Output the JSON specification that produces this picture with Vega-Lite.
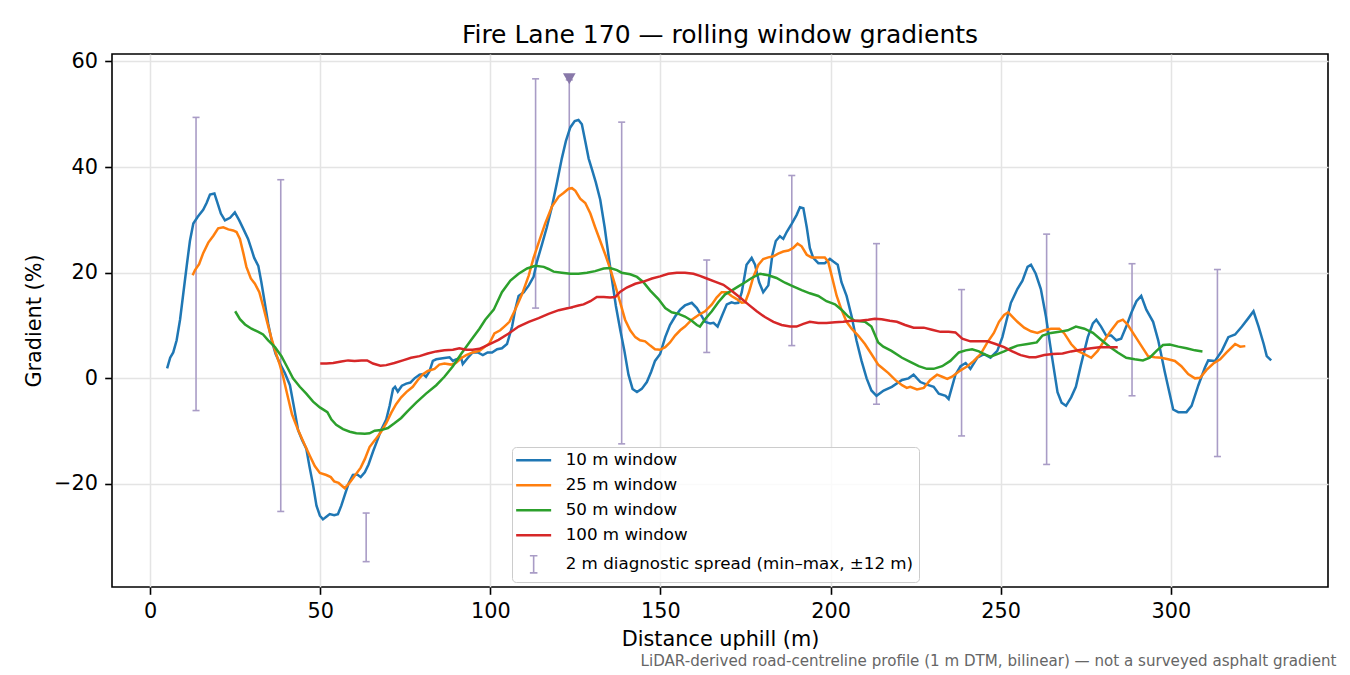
{
  "$schema": "https://vega.github.io/schema/vega-lite/v6.json",
  "width": 1216,
  "height": 533,
  "autosize": "none",
  "padding": {"left": 112, "top": 54, "right": 22, "bottom": 88},
  "background": "white",
  "title": {
    "text": "Fire Lane 170 — rolling window gradients",
    "font": "DejaVu Sans",
    "fontSize": 25,
    "fontWeight": "normal",
    "color": "#000000",
    "anchor": "middle",
    "baseline": "alphabetic",
    "offset": 12.5,
    "dy": 30
  },
  "datasets": {
    "profile": [
      {"window":"10 m window","distance":5.0,"gradient":1.9},{"window":"10 m window","distance":5.9,"gradient":3.9},{"window":"10 m window","distance":6.8,"gradient":4.9},{"window":"10 m window","distance":7.8,"gradient":7.2},{"window":"10 m window","distance":8.8,"gradient":11.1},{"window":"10 m window","distance":9.8,"gradient":16.3},{"window":"10 m window","distance":10.8,"gradient":21.5},{"window":"10 m window","distance":11.7,"gradient":26.0},{"window":"10 m window","distance":12.7,"gradient":29.3},{"window":"10 m window","distance":14.0,"gradient":30.6},{"window":"10 m window","distance":15.6,"gradient":31.9},{"window":"10 m window","distance":16.6,"gradient":33.2},{"window":"10 m window","distance":17.6,"gradient":34.8},{"window":"10 m window","distance":18.9,"gradient":35.0},{"window":"10 m window","distance":19.8,"gradient":33.2},{"window":"10 m window","distance":20.8,"gradient":31.2},{"window":"10 m window","distance":22.0,"gradient":29.9},{"window":"10 m window","distance":23.5,"gradient":30.4},{"window":"10 m window","distance":24.9,"gradient":31.4},{"window":"10 m window","distance":26.2,"gradient":29.9},{"window":"10 m window","distance":27.4,"gradient":28.3},{"window":"10 m window","distance":28.8,"gradient":26.4},{"window":"10 m window","distance":29.8,"gradient":24.4},{"window":"10 m window","distance":30.6,"gradient":22.8},{"window":"10 m window","distance":31.8,"gradient":21.3},{"window":"10 m window","distance":32.7,"gradient":18.2},{"window":"10 m window","distance":33.7,"gradient":14.3},{"window":"10 m window","distance":34.7,"gradient":10.4},{"window":"10 m window","distance":35.7,"gradient":7.2},{"window":"10 m window","distance":36.9,"gradient":4.6},{"window":"10 m window","distance":38.1,"gradient":2.9},{"window":"10 m window","distance":39.6,"gradient":1.0},{"window":"10 m window","distance":41.1,"gradient":-1.3},{"window":"10 m window","distance":42.3,"gradient":-5.5},{"window":"10 m window","distance":43.5,"gradient":-9.8},{"window":"10 m window","distance":44.7,"gradient":-11.7},{"window":"10 m window","distance":45.9,"gradient":-13.3},{"window":"10 m window","distance":46.9,"gradient":-16.9},{"window":"10 m window","distance":47.9,"gradient":-20.2},{"window":"10 m window","distance":48.9,"gradient":-24.1},{"window":"10 m window","distance":49.9,"gradient":-26.0},{"window":"10 m window","distance":50.8,"gradient":-26.7},{"window":"10 m window","distance":51.8,"gradient":-26.2},{"window":"10 m window","distance":52.8,"gradient":-25.7},{"window":"10 m window","distance":54.1,"gradient":-25.9},{"window":"10 m window","distance":55.2,"gradient":-25.7},{"window":"10 m window","distance":56.2,"gradient":-24.1},{"window":"10 m window","distance":57.2,"gradient":-22.1},{"window":"10 m window","distance":58.4,"gradient":-19.8},{"window":"10 m window","distance":59.6,"gradient":-18.3},{"window":"10 m window","distance":60.9,"gradient":-18.2},{"window":"10 m window","distance":61.9,"gradient":-18.7},{"window":"10 m window","distance":63.1,"gradient":-17.8},{"window":"10 m window","distance":64.2,"gradient":-16.3},{"window":"10 m window","distance":65.5,"gradient":-13.9},{"window":"10 m window","distance":66.8,"gradient":-11.7},{"window":"10 m window","distance":67.9,"gradient":-9.8},{"window":"10 m window","distance":69.4,"gradient":-7.8},{"window":"10 m window","distance":70.4,"gradient":-5.2},{"window":"10 m window","distance":71.4,"gradient":-2.0},{"window":"10 m window","distance":72.0,"gradient":-1.6},{"window":"10 m window","distance":72.8,"gradient":-2.5},{"window":"10 m window","distance":74.0,"gradient":-1.4},{"window":"10 m window","distance":75.3,"gradient":-1.0},{"window":"10 m window","distance":76.5,"gradient":-0.8},{"window":"10 m window","distance":77.7,"gradient":0},{"window":"10 m window","distance":79.2,"gradient":0.7},{"window":"10 m window","distance":80.2,"gradient":0.8},{"window":"10 m window","distance":81.1,"gradient":0.3},{"window":"10 m window","distance":82.1,"gradient":1.3},{"window":"10 m window","distance":83.1,"gradient":3.3},{"window":"10 m window","distance":84.1,"gradient":3.6},{"window":"10 m window","distance":86.0,"gradient":3.8},{"window":"10 m window","distance":88.0,"gradient":4.0},{"window":"10 m window","distance":89.0,"gradient":3.3},{"window":"10 m window","distance":89.9,"gradient":3.6},{"window":"10 m window","distance":91.4,"gradient":3.9},{"window":"10 m window","distance":91.9,"gradient":2.7},{"window":"10 m window","distance":93.4,"gradient":3.9},{"window":"10 m window","distance":94.8,"gradient":4.9},{"window":"10 m window","distance":96.3,"gradient":4.9},{"window":"10 m window","distance":97.8,"gradient":4.4},{"window":"10 m window","distance":99.2,"gradient":4.9},{"window":"10 m window","distance":100.5,"gradient":4.9},{"window":"10 m window","distance":102.0,"gradient":5.5},{"window":"10 m window","distance":103.4,"gradient":5.7},{"window":"10 m window","distance":104.9,"gradient":6.5},{"window":"10 m window","distance":106.4,"gradient":9.8},{"window":"10 m window","distance":107.3,"gradient":13.0},{"window":"10 m window","distance":108.3,"gradient":15.6},{"window":"10 m window","distance":109.8,"gradient":16.3},{"window":"10 m window","distance":111.3,"gradient":17.6},{"window":"10 m window","distance":112.7,"gradient":19.2},{"window":"10 m window","distance":113.7,"gradient":22.1},{"window":"10 m window","distance":115.2,"gradient":25.4},{"window":"10 m window","distance":116.6,"gradient":28.6},{"window":"10 m window","distance":118.1,"gradient":32.5},{"window":"10 m window","distance":119.6,"gradient":37.1},{"window":"10 m window","distance":121.0,"gradient":41.6},{"window":"10 m window","distance":122.2,"gradient":44.9},{"window":"10 m window","distance":123.5,"gradient":47.5},{"window":"10 m window","distance":124.8,"gradient":48.7},{"window":"10 m window","distance":125.9,"gradient":48.9},{"window":"10 m window","distance":126.9,"gradient":48.1},{"window":"10 m window","distance":127.9,"gradient":44.9},{"window":"10 m window","distance":128.9,"gradient":41.6},{"window":"10 m window","distance":129.8,"gradient":39.7},{"window":"10 m window","distance":131.0,"gradient":37.1},{"window":"10 m window","distance":132.3,"gradient":33.8},{"window":"10 m window","distance":133.6,"gradient":28.6},{"window":"10 m window","distance":134.7,"gradient":23.4},{"window":"10 m window","distance":135.7,"gradient":18.9},{"window":"10 m window","distance":136.9,"gradient":13.7},{"window":"10 m window","distance":138.2,"gradient":9.1},{"window":"10 m window","distance":139.4,"gradient":5.2},{"window":"10 m window","distance":140.6,"gradient":0.7},{"window":"10 m window","distance":141.8,"gradient":-2.0},{"window":"10 m window","distance":143.1,"gradient":-2.6},{"window":"10 m window","distance":144.5,"gradient":-2.0},{"window":"10 m window","distance":146.0,"gradient":-0.7},{"window":"10 m window","distance":147.3,"gradient":1.3},{"window":"10 m window","distance":148.4,"gradient":3.3},{"window":"10 m window","distance":149.9,"gradient":4.6},{"window":"10 m window","distance":151.4,"gradient":7.8},{"window":"10 m window","distance":152.8,"gradient":10.1},{"window":"10 m window","distance":154.3,"gradient":11.7},{"window":"10 m window","distance":155.8,"gradient":13.0},{"window":"10 m window","distance":157.2,"gradient":13.8},{"window":"10 m window","distance":159.2,"gradient":14.3},{"window":"10 m window","distance":160.7,"gradient":13.3},{"window":"10 m window","distance":161.9,"gradient":12.0},{"window":"10 m window","distance":163.1,"gradient":10.7},{"window":"10 m window","distance":164.6,"gradient":10.4},{"window":"10 m window","distance":165.6,"gradient":10.5},{"window":"10 m window","distance":166.8,"gradient":9.8},{"window":"10 m window","distance":168.0,"gradient":11.7},{"window":"10 m window","distance":169.5,"gradient":14.0},{"window":"10 m window","distance":170.9,"gradient":14.4},{"window":"10 m window","distance":171.9,"gradient":14.2},{"window":"10 m window","distance":172.9,"gradient":14.3},{"window":"10 m window","distance":173.9,"gradient":16.3},{"window":"10 m window","distance":175.3,"gradient":21.5},{"window":"10 m window","distance":176.8,"gradient":22.8},{"window":"10 m window","distance":177.8,"gradient":21.5},{"window":"10 m window","distance":179.0,"gradient":18.2},{"window":"10 m window","distance":180.2,"gradient":16.3},{"window":"10 m window","distance":181.7,"gradient":17.6},{"window":"10 m window","distance":182.9,"gradient":23.4},{"window":"10 m window","distance":183.9,"gradient":26.0},{"window":"10 m window","distance":185.1,"gradient":26.9},{"window":"10 m window","distance":186.1,"gradient":26.4},{"window":"10 m window","distance":187.1,"gradient":27.7},{"window":"10 m window","distance":188.6,"gradient":29.3},{"window":"10 m window","distance":190.0,"gradient":30.9},{"window":"10 m window","distance":191.0,"gradient":32.4},{"window":"10 m window","distance":192.0,"gradient":32.2},{"window":"10 m window","distance":193.0,"gradient":28.6},{"window":"10 m window","distance":193.9,"gradient":24.7},{"window":"10 m window","distance":194.9,"gradient":22.8},{"window":"10 m window","distance":196.4,"gradient":21.8},{"window":"10 m window","distance":198.3,"gradient":21.8},{"window":"10 m window","distance":199.8,"gradient":22.6},{"window":"10 m window","distance":200.8,"gradient":22.1},{"window":"10 m window","distance":202.1,"gradient":21.5},{"window":"10 m window","distance":203.2,"gradient":18.2},{"window":"10 m window","distance":204.7,"gradient":15.6},{"window":"10 m window","distance":206.2,"gradient":11.7},{"window":"10 m window","distance":207.6,"gradient":7.2},{"window":"10 m window","distance":209.1,"gradient":3.3},{"window":"10 m window","distance":210.6,"gradient":0},{"window":"10 m window","distance":212.0,"gradient":-2.3},{"window":"10 m window","distance":213.5,"gradient":-3.3},{"window":"10 m window","distance":215.6,"gradient":-2.3},{"window":"10 m window","distance":218.0,"gradient":-1.6},{"window":"10 m window","distance":221.0,"gradient":-0.3},{"window":"10 m window","distance":222.9,"gradient":0},{"window":"10 m window","distance":224.4,"gradient":0.7},{"window":"10 m window","distance":226.4,"gradient":-0.7},{"window":"10 m window","distance":228.3,"gradient":-1.2},{"window":"10 m window","distance":230.3,"gradient":-1.6},{"window":"10 m window","distance":231.8,"gradient":-2.9},{"window":"10 m window","distance":233.8,"gradient":-3.3},{"window":"10 m window","distance":234.7,"gradient":-3.9},{"window":"10 m window","distance":236.7,"gradient":0.7},{"window":"10 m window","distance":238.2,"gradient":2.3},{"window":"10 m window","distance":239.7,"gradient":2.9},{"window":"10 m window","distance":241.1,"gradient":1.8},{"window":"10 m window","distance":243.1,"gradient":3.9},{"window":"10 m window","distance":245.1,"gradient":4.6},{"window":"10 m window","distance":247.0,"gradient":3.9},{"window":"10 m window","distance":249.0,"gradient":5.2},{"window":"10 m window","distance":250.5,"gradient":7.8},{"window":"10 m window","distance":253.0,"gradient":14.3},{"window":"10 m window","distance":254.9,"gradient":16.9},{"window":"10 m window","distance":256.4,"gradient":18.5},{"window":"10 m window","distance":257.9,"gradient":21.1},{"window":"10 m window","distance":258.9,"gradient":21.5},{"window":"10 m window","distance":260.3,"gradient":19.8},{"window":"10 m window","distance":261.8,"gradient":16.9},{"window":"10 m window","distance":263.3,"gradient":11.7},{"window":"10 m window","distance":264.8,"gradient":5.2},{"window":"10 m window","distance":266.7,"gradient":-2.6},{"window":"10 m window","distance":267.9,"gradient":-4.6},{"window":"10 m window","distance":269.2,"gradient":-5.2},{"window":"10 m window","distance":270.7,"gradient":-3.6},{"window":"10 m window","distance":272.1,"gradient":-1.6},{"window":"10 m window","distance":273.6,"gradient":2.6},{"window":"10 m window","distance":275.6,"gradient":7.8},{"window":"10 m window","distance":277.1,"gradient":10.4},{"window":"10 m window","distance":278.1,"gradient":11.1},{"window":"10 m window","distance":279.5,"gradient":9.8},{"window":"10 m window","distance":281.0,"gradient":8.1},{"window":"10 m window","distance":282.5,"gradient":8.1},{"window":"10 m window","distance":284.0,"gradient":7.2},{"window":"10 m window","distance":285.4,"gradient":7.5},{"window":"10 m window","distance":286.9,"gradient":9.8},{"window":"10 m window","distance":288.4,"gradient":12.4},{"window":"10 m window","distance":289.9,"gradient":14.6},{"window":"10 m window","distance":291.3,"gradient":15.6},{"window":"10 m window","distance":292.8,"gradient":13.0},{"window":"10 m window","distance":294.8,"gradient":10.7},{"window":"10 m window","distance":296.3,"gradient":7.2},{"window":"10 m window","distance":298.2,"gradient":1.3},{"window":"10 m window","distance":300.7,"gradient":-5.9},{"window":"10 m window","distance":302.2,"gradient":-6.4},{"window":"10 m window","distance":304.6,"gradient":-6.4},{"window":"10 m window","distance":306.1,"gradient":-5.2},{"window":"10 m window","distance":308.1,"gradient":-1.3},{"window":"10 m window","distance":310.0,"gradient":2.0},{"window":"10 m window","distance":311.0,"gradient":3.4},{"window":"10 m window","distance":313.0,"gradient":3.3},{"window":"10 m window","distance":315.0,"gradient":5.2},{"window":"10 m window","distance":316.9,"gradient":7.8},{"window":"10 m window","distance":318.9,"gradient":8.3},{"window":"10 m window","distance":320.9,"gradient":9.8},{"window":"10 m window","distance":322.8,"gradient":11.4},{"window":"10 m window","distance":324.3,"gradient":12.7},{"window":"10 m window","distance":325.8,"gradient":9.8},{"window":"10 m window","distance":327.3,"gradient":6.5},{"window":"10 m window","distance":328.2,"gradient":4.2},{"window":"10 m window","distance":329.5,"gradient":3.4},
      {"window":"25 m window","distance":12.5,"gradient":19.5},{"window":"25 m window","distance":13.2,"gradient":20.5},{"window":"25 m window","distance":14.4,"gradient":21.6},{"window":"25 m window","distance":15.6,"gradient":23.7},{"window":"25 m window","distance":17.1,"gradient":25.7},{"window":"25 m window","distance":18.6,"gradient":27.0},{"window":"25 m window","distance":20.0,"gradient":28.4},{"window":"25 m window","distance":21.5,"gradient":28.6},{"window":"25 m window","distance":23.0,"gradient":28.2},{"window":"25 m window","distance":24.4,"gradient":28.0},{"window":"25 m window","distance":25.4,"gradient":27.7},{"window":"25 m window","distance":26.4,"gradient":26.4},{"window":"25 m window","distance":27.4,"gradient":23.7},{"window":"25 m window","distance":28.3,"gradient":21.1},{"window":"25 m window","distance":29.6,"gradient":18.9},{"window":"25 m window","distance":30.8,"gradient":17.9},{"window":"25 m window","distance":32.1,"gradient":16.3},{"window":"25 m window","distance":33.2,"gradient":13.7},{"window":"25 m window","distance":34.5,"gradient":10.4},{"window":"25 m window","distance":35.7,"gradient":7.5},{"window":"25 m window","distance":36.9,"gradient":4.9},{"window":"25 m window","distance":38.1,"gradient":2.6},{"window":"25 m window","distance":39.1,"gradient":0.3},{"window":"25 m window","distance":40.4,"gradient":-3.3},{"window":"25 m window","distance":41.7,"gradient":-6.8},{"window":"25 m window","distance":43.5,"gradient":-9.8},{"window":"25 m window","distance":45.3,"gradient":-12.4},{"window":"25 m window","distance":46.9,"gradient":-14.6},{"window":"25 m window","distance":48.4,"gradient":-16.6},{"window":"25 m window","distance":49.9,"gradient":-17.9},{"window":"25 m window","distance":51.8,"gradient":-18.3},{"window":"25 m window","distance":53.1,"gradient":-18.7},{"window":"25 m window","distance":54.1,"gradient":-19.5},{"window":"25 m window","distance":55.4,"gradient":-19.8},{"window":"25 m window","distance":57.2,"gradient":-20.8},{"window":"25 m window","distance":58.7,"gradient":-19.7},{"window":"25 m window","distance":60.1,"gradient":-18.5},{"window":"25 m window","distance":61.9,"gradient":-16.9},{"window":"25 m window","distance":63.1,"gradient":-15.3},{"window":"25 m window","distance":64.5,"gradient":-13.0},{"window":"25 m window","distance":66.2,"gradient":-11.6},{"window":"25 m window","distance":67.9,"gradient":-10.1},{"window":"25 m window","distance":69.4,"gradient":-8.5},{"window":"25 m window","distance":70.9,"gradient":-6.5},{"window":"25 m window","distance":72.3,"gradient":-4.9},{"window":"25 m window","distance":73.8,"gradient":-3.6},{"window":"25 m window","distance":75.3,"gradient":-2.6},{"window":"25 m window","distance":77.2,"gradient":-1.6},{"window":"25 m window","distance":78.7,"gradient":-0.3},{"window":"25 m window","distance":80.2,"gradient":0.8},{"window":"25 m window","distance":81.6,"gradient":1.4},{"window":"25 m window","distance":83.6,"gradient":1.8},{"window":"25 m window","distance":85.0,"gradient":2.6},{"window":"25 m window","distance":86.5,"gradient":2.8},{"window":"25 m window","distance":88.5,"gradient":2.6},{"window":"25 m window","distance":89.9,"gradient":2.9},{"window":"25 m window","distance":91.4,"gradient":3.8},{"window":"25 m window","distance":92.9,"gradient":4.4},{"window":"25 m window","distance":94.8,"gradient":4.9},{"window":"25 m window","distance":96.8,"gradient":5.2},{"window":"25 m window","distance":98.2,"gradient":5.9},{"window":"25 m window","distance":99.7,"gradient":6.6},{"window":"25 m window","distance":101.2,"gradient":8.5},{"window":"25 m window","distance":102.9,"gradient":9.1},{"window":"25 m window","distance":104.1,"gradient":9.8},{"window":"25 m window","distance":105.6,"gradient":10.7},{"window":"25 m window","distance":107.3,"gradient":13.0},{"window":"25 m window","distance":109.3,"gradient":15.9},{"window":"25 m window","distance":111.3,"gradient":19.5},{"window":"25 m window","distance":112.7,"gradient":22.8},{"window":"25 m window","distance":114.2,"gradient":25.7},{"window":"25 m window","distance":116.1,"gradient":29.3},{"window":"25 m window","distance":118.1,"gradient":32.5},{"window":"25 m window","distance":120.1,"gradient":34.4},{"window":"25 m window","distance":121.5,"gradient":35.1},{"window":"25 m window","distance":123.0,"gradient":35.9},{"window":"25 m window","distance":124.0,"gradient":36.0},{"window":"25 m window","distance":125.0,"gradient":35.5},{"window":"25 m window","distance":126.4,"gradient":34.0},{"window":"25 m window","distance":127.9,"gradient":33.2},{"window":"25 m window","distance":129.4,"gradient":31.2},{"window":"25 m window","distance":130.8,"gradient":28.6},{"window":"25 m window","distance":132.3,"gradient":26.0},{"window":"25 m window","distance":133.8,"gradient":23.4},{"window":"25 m window","distance":135.2,"gradient":20.8},{"window":"25 m window","distance":136.7,"gradient":17.6},{"window":"25 m window","distance":138.2,"gradient":14.3},{"window":"25 m window","distance":139.6,"gradient":11.1},{"window":"25 m window","distance":141.1,"gradient":9.1},{"window":"25 m window","distance":142.6,"gradient":7.8},{"window":"25 m window","distance":144.0,"gradient":7.2},{"window":"25 m window","distance":145.5,"gradient":7.0},{"window":"25 m window","distance":147.0,"gradient":6.2},{"window":"25 m window","distance":148.4,"gradient":5.5},{"window":"25 m window","distance":149.9,"gradient":5.4},{"window":"25 m window","distance":151.4,"gradient":5.9},{"window":"25 m window","distance":152.8,"gradient":6.8},{"window":"25 m window","distance":154.3,"gradient":8.1},{"window":"25 m window","distance":155.8,"gradient":9.1},{"window":"25 m window","distance":157.2,"gradient":9.8},{"window":"25 m window","distance":159.2,"gradient":11.1},{"window":"25 m window","distance":161.2,"gradient":12.0},{"window":"25 m window","distance":163.1,"gradient":12.7},{"window":"25 m window","distance":165.1,"gradient":14.0},{"window":"25 m window","distance":166.5,"gradient":15.3},{"window":"25 m window","distance":168.0,"gradient":16.3},{"window":"25 m window","distance":169.5,"gradient":16.3},{"window":"25 m window","distance":170.9,"gradient":15.6},{"window":"25 m window","distance":172.4,"gradient":15.0},{"window":"25 m window","distance":173.9,"gradient":14.3},{"window":"25 m window","distance":174.9,"gradient":14.4},{"window":"25 m window","distance":176.0,"gradient":16.3},{"window":"25 m window","distance":177.3,"gradient":19.2},{"window":"25 m window","distance":178.8,"gradient":21.5},{"window":"25 m window","distance":180.2,"gradient":22.6},{"window":"25 m window","distance":181.7,"gradient":22.9},{"window":"25 m window","distance":183.2,"gradient":23.1},{"window":"25 m window","distance":184.6,"gradient":23.6},{"window":"25 m window","distance":186.1,"gradient":24.0},{"window":"25 m window","distance":187.6,"gradient":24.2},{"window":"25 m window","distance":189.0,"gradient":24.7},{"window":"25 m window","distance":190.3,"gradient":25.5},{"window":"25 m window","distance":191.5,"gradient":25.0},{"window":"25 m window","distance":193.0,"gradient":23.4},{"window":"25 m window","distance":194.4,"gradient":22.9},{"window":"25 m window","distance":196.4,"gradient":22.9},{"window":"25 m window","distance":198.3,"gradient":22.9},{"window":"25 m window","distance":199.3,"gradient":22.1},{"window":"25 m window","distance":200.3,"gradient":19.5},{"window":"25 m window","distance":201.8,"gradient":15.6},{"window":"25 m window","distance":203.2,"gradient":13.0},{"window":"25 m window","distance":204.7,"gradient":10.7},{"window":"25 m window","distance":206.2,"gradient":9.4},{"window":"25 m window","distance":208.1,"gradient":8.1},{"window":"25 m window","distance":210.1,"gradient":6.5},{"window":"25 m window","distance":212.0,"gradient":4.6},{"window":"25 m window","distance":214.0,"gradient":2.6},{"window":"25 m window","distance":215.1,"gradient":2.0},{"window":"25 m window","distance":217.0,"gradient":1.0},{"window":"25 m window","distance":219.0,"gradient":-0.3},{"window":"25 m window","distance":221.0,"gradient":-1.3},{"window":"25 m window","distance":222.4,"gradient":-1.8},{"window":"25 m window","distance":223.4,"gradient":-1.6},{"window":"25 m window","distance":225.4,"gradient":-2.1},{"window":"25 m window","distance":227.4,"gradient":-1.8},{"window":"25 m window","distance":229.3,"gradient":-0.3},{"window":"25 m window","distance":231.3,"gradient":0.7},{"window":"25 m window","distance":232.8,"gradient":0.3},{"window":"25 m window","distance":234.3,"gradient":-0.1},{"window":"25 m window","distance":235.7,"gradient":0.3},{"window":"25 m window","distance":237.7,"gradient":1.3},{"window":"25 m window","distance":240.2,"gradient":2.3},{"window":"25 m window","distance":242.1,"gradient":3.3},{"window":"25 m window","distance":244.1,"gradient":4.6},{"window":"25 m window","distance":246.1,"gradient":6.8},{"window":"25 m window","distance":248.0,"gradient":8.6},{"window":"25 m window","distance":249.5,"gradient":10.7},{"window":"25 m window","distance":251.0,"gradient":12.0},{"window":"25 m window","distance":252.2,"gradient":12.5},{"window":"25 m window","distance":253.4,"gradient":11.7},{"window":"25 m window","distance":254.9,"gradient":10.7},{"window":"25 m window","distance":256.9,"gradient":9.6},{"window":"25 m window","distance":258.9,"gradient":8.9},{"window":"25 m window","distance":260.8,"gradient":8.6},{"window":"25 m window","distance":262.8,"gradient":9.1},{"window":"25 m window","distance":264.8,"gradient":9.4},{"window":"25 m window","distance":267.2,"gradient":9.4},{"window":"25 m window","distance":268.7,"gradient":8.5},{"window":"25 m window","distance":270.7,"gradient":6.5},{"window":"25 m window","distance":272.6,"gradient":5.2},{"window":"25 m window","distance":274.6,"gradient":4.6},{"window":"25 m window","distance":276.6,"gradient":3.9},{"window":"25 m window","distance":278.5,"gradient":5.2},{"window":"25 m window","distance":280.5,"gradient":7.2},{"window":"25 m window","distance":282.5,"gradient":9.1},{"window":"25 m window","distance":284.4,"gradient":10.7},{"window":"25 m window","distance":285.9,"gradient":11.1},{"window":"25 m window","distance":287.4,"gradient":10.1},{"window":"25 m window","distance":289.4,"gradient":8.1},{"window":"25 m window","distance":291.3,"gradient":6.2},{"window":"25 m window","distance":293.3,"gradient":4.2},{"window":"25 m window","distance":295.3,"gradient":4.0},{"window":"25 m window","distance":297.2,"gradient":3.9},{"window":"25 m window","distance":299.2,"gradient":3.6},{"window":"25 m window","distance":301.2,"gradient":3.3},{"window":"25 m window","distance":303.1,"gradient":2.3},{"window":"25 m window","distance":305.1,"gradient":0.8},{"window":"25 m window","distance":307.1,"gradient":0},{"window":"25 m window","distance":308.6,"gradient":0.1},{"window":"25 m window","distance":310.5,"gradient":1.6},{"window":"25 m window","distance":312.5,"gradient":2.8},{"window":"25 m window","distance":314.5,"gradient":3.6},{"window":"25 m window","distance":316.4,"gradient":4.9},{"window":"25 m window","distance":318.9,"gradient":6.5},{"window":"25 m window","distance":320.4,"gradient":6.0},{"window":"25 m window","distance":321.9,"gradient":6.1},
      {"window":"50 m window","distance":25.0,"gradient":12.7},{"window":"50 m window","distance":26.4,"gradient":11.2},{"window":"50 m window","distance":27.9,"gradient":10.2},{"window":"50 m window","distance":29.8,"gradient":9.4},{"window":"50 m window","distance":31.8,"gradient":8.8},{"window":"50 m window","distance":33.2,"gradient":8.3},{"window":"50 m window","distance":34.7,"gradient":7.2},{"window":"50 m window","distance":36.7,"gradient":5.9},{"window":"50 m window","distance":38.6,"gradient":4.2},{"window":"50 m window","distance":40.4,"gradient":2.0},{"window":"50 m window","distance":42.0,"gradient":0},{"window":"50 m window","distance":44.0,"gradient":-1.6},{"window":"50 m window","distance":45.9,"gradient":-2.9},{"window":"50 m window","distance":47.9,"gradient":-4.4},{"window":"50 m window","distance":49.9,"gradient":-5.5},{"window":"50 m window","distance":52.1,"gradient":-6.4},{"window":"50 m window","distance":53.3,"gradient":-7.8},{"window":"50 m window","distance":54.7,"gradient":-8.8},{"window":"50 m window","distance":56.7,"gradient":-9.6},{"window":"50 m window","distance":58.7,"gradient":-10.1},{"window":"50 m window","distance":60.6,"gradient":-10.4},{"window":"50 m window","distance":63.1,"gradient":-10.5},{"window":"50 m window","distance":64.5,"gradient":-10.4},{"window":"50 m window","distance":66.0,"gradient":-9.9},{"window":"50 m window","distance":67.9,"gradient":-9.8},{"window":"50 m window","distance":69.9,"gradient":-9.4},{"window":"50 m window","distance":71.8,"gradient":-8.5},{"window":"50 m window","distance":73.8,"gradient":-7.5},{"window":"50 m window","distance":75.7,"gradient":-6.2},{"window":"50 m window","distance":78.2,"gradient":-4.6},{"window":"50 m window","distance":81.1,"gradient":-2.9},{"window":"50 m window","distance":84.1,"gradient":-1.3},{"window":"50 m window","distance":86.5,"gradient":0.3},{"window":"50 m window","distance":89.0,"gradient":2.3},{"window":"50 m window","distance":91.4,"gradient":4.6},{"window":"50 m window","distance":94.3,"gradient":7.2},{"window":"50 m window","distance":96.8,"gradient":9.4},{"window":"50 m window","distance":98.5,"gradient":11.1},{"window":"50 m window","distance":101.0,"gradient":13.0},{"window":"50 m window","distance":103.4,"gradient":16.3},{"window":"50 m window","distance":105.9,"gradient":18.5},{"window":"50 m window","distance":108.3,"gradient":19.8},{"window":"50 m window","distance":110.8,"gradient":20.8},{"window":"50 m window","distance":113.2,"gradient":21.3},{"window":"50 m window","distance":115.7,"gradient":21.1},{"window":"50 m window","distance":117.1,"gradient":20.7},{"window":"50 m window","distance":118.6,"gradient":20.2},{"window":"50 m window","distance":121.0,"gradient":20.0},{"window":"50 m window","distance":123.5,"gradient":19.8},{"window":"50 m window","distance":125.9,"gradient":19.8},{"window":"50 m window","distance":128.4,"gradient":20.0},{"window":"50 m window","distance":130.8,"gradient":20.3},{"window":"50 m window","distance":133.3,"gradient":20.8},{"window":"50 m window","distance":135.2,"gradient":20.9},{"window":"50 m window","distance":137.2,"gradient":20.5},{"window":"50 m window","distance":138.6,"gradient":20.0},{"window":"50 m window","distance":141.1,"gradient":19.7},{"window":"50 m window","distance":143.1,"gradient":19.2},{"window":"50 m window","distance":145.0,"gradient":18.2},{"window":"50 m window","distance":147.0,"gradient":16.6},{"window":"50 m window","distance":149.4,"gradient":15.0},{"window":"50 m window","distance":151.4,"gradient":13.3},{"window":"50 m window","distance":153.3,"gradient":12.5},{"window":"50 m window","distance":155.3,"gradient":12.2},{"window":"50 m window","distance":157.2,"gradient":11.7},{"window":"50 m window","distance":159.2,"gradient":10.9},{"window":"50 m window","distance":160.7,"gradient":10.1},{"window":"50 m window","distance":161.6,"gradient":9.8},{"window":"50 m window","distance":163.1,"gradient":11.2},{"window":"50 m window","distance":165.1,"gradient":12.7},{"window":"50 m window","distance":167.0,"gradient":14.4},{"window":"50 m window","distance":169.0,"gradient":15.9},{"window":"50 m window","distance":170.9,"gradient":16.6},{"window":"50 m window","distance":172.9,"gradient":17.4},{"window":"50 m window","distance":174.9,"gradient":18.2},{"window":"50 m window","distance":176.8,"gradient":19.0},{"window":"50 m window","distance":179.3,"gradient":19.8},{"window":"50 m window","distance":181.7,"gradient":19.5},{"window":"50 m window","distance":184.1,"gradient":19.0},{"window":"50 m window","distance":186.6,"gradient":18.1},{"window":"50 m window","distance":189.0,"gradient":17.4},{"window":"50 m window","distance":191.5,"gradient":16.7},{"window":"50 m window","distance":193.9,"gradient":16.1},{"window":"50 m window","distance":196.4,"gradient":15.6},{"window":"50 m window","distance":198.8,"gradient":14.6},{"window":"50 m window","distance":201.3,"gradient":14.0},{"window":"50 m window","distance":203.2,"gradient":13.0},{"window":"50 m window","distance":205.2,"gradient":11.7},{"window":"50 m window","distance":207.1,"gradient":10.9},{"window":"50 m window","distance":210.1,"gradient":10.7},{"window":"50 m window","distance":212.0,"gradient":9.8},{"window":"50 m window","distance":214.0,"gradient":6.8},{"window":"50 m window","distance":215.5,"gradient":6.0},{"window":"50 m window","distance":217.9,"gradient":5.2},{"window":"50 m window","distance":221.0,"gradient":3.9},{"window":"50 m window","distance":223.4,"gradient":3.1},{"window":"50 m window","distance":225.9,"gradient":2.3},{"window":"50 m window","distance":228.3,"gradient":1.8},{"window":"50 m window","distance":230.3,"gradient":1.8},{"window":"50 m window","distance":232.8,"gradient":2.3},{"window":"50 m window","distance":235.2,"gradient":3.3},{"window":"50 m window","distance":237.7,"gradient":4.9},{"window":"50 m window","distance":239.7,"gradient":5.3},{"window":"50 m window","distance":241.6,"gradient":5.5},{"window":"50 m window","distance":243.6,"gradient":5.1},{"window":"50 m window","distance":245.1,"gradient":4.6},{"window":"50 m window","distance":247.0,"gradient":4.1},{"window":"50 m window","distance":249.0,"gradient":4.6},{"window":"50 m window","distance":251.0,"gradient":5.1},{"window":"50 m window","distance":253.0,"gradient":5.7},{"window":"50 m window","distance":254.9,"gradient":6.2},{"window":"50 m window","distance":257.9,"gradient":6.5},{"window":"50 m window","distance":260.6,"gradient":6.8},{"window":"50 m window","distance":262.3,"gradient":8.1},{"window":"50 m window","distance":264.8,"gradient":8.6},{"window":"50 m window","distance":267.2,"gradient":8.8},{"window":"50 m window","distance":269.7,"gradient":9.1},{"window":"50 m window","distance":272.1,"gradient":9.8},{"window":"50 m window","distance":274.6,"gradient":9.4},{"window":"50 m window","distance":277.1,"gradient":8.6},{"window":"50 m window","distance":279.5,"gradient":7.3},{"window":"50 m window","distance":282.0,"gradient":6.0},{"window":"50 m window","distance":284.4,"gradient":4.9},{"window":"50 m window","distance":286.9,"gradient":3.9},{"window":"50 m window","distance":289.4,"gradient":3.6},{"window":"50 m window","distance":291.8,"gradient":3.4},{"window":"50 m window","distance":293.8,"gradient":3.9},{"window":"50 m window","distance":295.8,"gradient":5.2},{"window":"50 m window","distance":297.7,"gradient":6.3},{"window":"50 m window","distance":299.7,"gradient":6.4},{"window":"50 m window","distance":302.2,"gradient":6.0},{"window":"50 m window","distance":304.6,"gradient":5.7},{"window":"50 m window","distance":307.1,"gradient":5.3},{"window":"50 m window","distance":309.3,"gradient":5.1},
      {"window":"100 m window","distance":50.0,"gradient":2.8},{"window":"100 m window","distance":51.8,"gradient":2.8},{"window":"100 m window","distance":53.8,"gradient":2.9},{"window":"100 m window","distance":56.2,"gradient":3.2},{"window":"100 m window","distance":58.2,"gradient":3.4},{"window":"100 m window","distance":60.1,"gradient":3.3},{"window":"100 m window","distance":62.1,"gradient":3.4},{"window":"100 m window","distance":63.8,"gradient":3.4},{"window":"100 m window","distance":65.5,"gradient":2.8},{"window":"100 m window","distance":67.7,"gradient":2.4},{"window":"100 m window","distance":69.4,"gradient":2.5},{"window":"100 m window","distance":71.8,"gradient":2.9},{"window":"100 m window","distance":74.3,"gradient":3.4},{"window":"100 m window","distance":76.7,"gradient":3.9},{"window":"100 m window","distance":79.2,"gradient":4.2},{"window":"100 m window","distance":81.6,"gradient":4.7},{"window":"100 m window","distance":84.1,"gradient":5.1},{"window":"100 m window","distance":86.5,"gradient":5.3},{"window":"100 m window","distance":89.0,"gradient":5.4},{"window":"100 m window","distance":90.9,"gradient":5.7},{"window":"100 m window","distance":92.9,"gradient":5.4},{"window":"100 m window","distance":94.8,"gradient":5.4},{"window":"100 m window","distance":96.8,"gradient":5.6},{"window":"100 m window","distance":99.5,"gradient":6.4},{"window":"100 m window","distance":102.4,"gradient":7.3},{"window":"100 m window","distance":105.4,"gradient":8.5},{"window":"100 m window","distance":108.3,"gradient":9.8},{"window":"100 m window","distance":111.3,"gradient":10.7},{"window":"100 m window","distance":114.2,"gradient":11.4},{"window":"100 m window","distance":117.1,"gradient":12.2},{"window":"100 m window","distance":120.1,"gradient":12.9},{"window":"100 m window","distance":123.0,"gradient":13.3},{"window":"100 m window","distance":125.9,"gradient":13.8},{"window":"100 m window","distance":127.4,"gradient":14.0},{"window":"100 m window","distance":129.4,"gradient":14.6},{"window":"100 m window","distance":131.3,"gradient":15.4},{"window":"100 m window","distance":133.3,"gradient":15.4},{"window":"100 m window","distance":135.2,"gradient":15.3},{"window":"100 m window","distance":136.7,"gradient":15.4},{"window":"100 m window","distance":138.2,"gradient":16.4},{"window":"100 m window","distance":140.1,"gradient":17.2},{"window":"100 m window","distance":142.6,"gradient":17.9},{"window":"100 m window","distance":145.0,"gradient":18.3},{"window":"100 m window","distance":147.5,"gradient":18.9},{"window":"100 m window","distance":149.9,"gradient":19.3},{"window":"100 m window","distance":152.3,"gradient":19.8},{"window":"100 m window","distance":154.8,"gradient":20.0},{"window":"100 m window","distance":157.2,"gradient":20.0},{"window":"100 m window","distance":159.7,"gradient":19.8},{"window":"100 m window","distance":161.6,"gradient":19.4},{"window":"100 m window","distance":163.6,"gradient":18.9},{"window":"100 m window","distance":166.0,"gradient":18.3},{"window":"100 m window","distance":168.5,"gradient":17.7},{"window":"100 m window","distance":170.9,"gradient":16.6},{"window":"100 m window","distance":173.4,"gradient":15.3},{"window":"100 m window","distance":175.8,"gradient":14.0},{"window":"100 m window","distance":178.3,"gradient":12.7},{"window":"100 m window","distance":180.7,"gradient":11.6},{"window":"100 m window","distance":183.2,"gradient":10.7},{"window":"100 m window","distance":185.6,"gradient":10.1},{"window":"100 m window","distance":188.1,"gradient":9.8},{"window":"100 m window","distance":190.0,"gradient":9.8},{"window":"100 m window","distance":192.0,"gradient":10.3},{"window":"100 m window","distance":193.9,"gradient":10.7},{"window":"100 m window","distance":196.4,"gradient":10.5},{"window":"100 m window","distance":198.8,"gradient":10.5},{"window":"100 m window","distance":201.3,"gradient":10.6},{"window":"100 m window","distance":203.7,"gradient":10.7},{"window":"100 m window","distance":206.2,"gradient":10.9},{"window":"100 m window","distance":208.6,"gradient":10.9},{"window":"100 m window","distance":211.1,"gradient":11.1},{"window":"100 m window","distance":213.0,"gradient":11.3},{"window":"100 m window","distance":215.0,"gradient":11.2},{"window":"100 m window","distance":217.4,"gradient":10.9},{"window":"100 m window","distance":219.5,"gradient":10.7},{"window":"100 m window","distance":221.9,"gradient":10.1},{"window":"100 m window","distance":224.4,"gradient":9.6},{"window":"100 m window","distance":227.4,"gradient":9.6},{"window":"100 m window","distance":229.8,"gradient":9.2},{"window":"100 m window","distance":232.3,"gradient":8.8},{"window":"100 m window","distance":234.7,"gradient":8.8},{"window":"100 m window","distance":236.7,"gradient":8.7},{"window":"100 m window","distance":238.7,"gradient":7.5},{"window":"100 m window","distance":241.1,"gradient":7.0},{"window":"100 m window","distance":243.6,"gradient":7.0},{"window":"100 m window","distance":246.1,"gradient":7.0},{"window":"100 m window","distance":248.5,"gradient":6.5},{"window":"100 m window","distance":251.0,"gradient":5.9},{"window":"100 m window","distance":253.4,"gradient":5.1},{"window":"100 m window","distance":255.9,"gradient":4.4},{"window":"100 m window","distance":258.4,"gradient":4.0},{"window":"100 m window","distance":260.3,"gradient":4.0},{"window":"100 m window","distance":262.8,"gradient":4.4},{"window":"100 m window","distance":265.3,"gradient":4.6},{"window":"100 m window","distance":268.2,"gradient":4.7},{"window":"100 m window","distance":270.7,"gradient":5.1},{"window":"100 m window","distance":273.6,"gradient":5.4},{"window":"100 m window","distance":276.6,"gradient":5.7},{"window":"100 m window","distance":279.0,"gradient":5.9},{"window":"100 m window","distance":282.0,"gradient":5.9},{"window":"100 m window","distance":284.4,"gradient":5.9}
    ],
    "spread": [
      {"distance": 13.5, "lo": -6.1, "hi": 49.4},
      {"distance": 38.4, "lo": -25.2, "hi": 37.6},
      {"distance": 63.5, "lo": -34.7, "hi": -25.5},
      {"distance": 113.3, "lo": 13.3, "hi": 56.7},
      {"distance": 123.2, "lo": 13.3, "hi": 56.5},
      {"distance": 138.6, "lo": -12.4, "hi": 48.5},
      {"distance": 163.6, "lo": 4.9, "hi": 22.4},
      {"distance": 188.6, "lo": 6.2, "hi": 38.4},
      {"distance": 213.5, "lo": -4.9, "hi": 25.5},
      {"distance": 238.5, "lo": -10.9, "hi": 16.8},
      {"distance": 263.5, "lo": -16.3, "hi": 27.3},
      {"distance": 288.6, "lo": -3.3, "hi": 21.7},
      {"distance": 313.7, "lo": -14.8, "hi": 20.6}
    ],
    "peak": [
      {"distance": 123.2, "gradient": 56.7}
    ]
  },
  "config": {
    "font": "DejaVu Sans",
    "view": {"stroke": "#000000", "strokeWidth": 1.6},
    "axis": {
      "domain": false,
      "grid": true,
      "gridColor": "#e4e4e4",
      "gridWidth": 1.5,
      "ticks": true,
      "tickColor": "#000000",
      "tickWidth": 1.6,
      "tickSize": 7.3,
      "labelPadding": 7.3,
      "labelFontSize": 20.8,
      "labelColor": "#000000",
      "titleFontSize": 20.8,
      "titleFontWeight": "normal",
      "titleColor": "#000000"
    }
  },
  "layer": [
    {
      "layer": [
        {
          "data": {"name": "spread"},
          "mark": {"type": "rule", "strokeWidth": 1.6},
          "encoding": {
            "x": {
              "field": "distance",
              "type": "quantitative",
              "scale": {"domain": [-11.2, 346.2], "nice": false, "zero": false},
              "axis": {
                "values": [0, 50, 100, 150, 200, 250, 300],
                "title": "Distance uphill (m)",
                "titleY": 58,
                "titleBaseline": "alphabetic"
              }
            },
            "y": {
              "field": "lo",
              "type": "quantitative",
              "scale": {"domain": [-39.5, 61.4], "nice": false, "zero": false},
              "axis": {
                "values": [-20, 0, 20, 40, 60],
                "title": "Gradient (%)",
                "titleX": -72,
                "titleY": 266.5,
                "titleAngle": -90,
                "titleAlign": "center",
                "titleBaseline": "alphabetic",
                "labelExpr": "replace(datum.label, '-', '−')"
              }
            },
            "y2": {"field": "hi"},
            "color": {
              "datum": "2 m diagnostic spread (min–max, ±12 m)",
              "title": null,
              "scale": {
                "domain": ["10 m window", "25 m window", "50 m window", "100 m window", "2 m diagnostic spread (min–max, ±12 m)"],
                "range": ["#1f77b4", "#ff7f0e", "#2ca02c", "#d62728", "#a99cc6"]
              },
              "legend": {
                "title": null,
                "orient": "none",
                "legendX": 400,
                "legendY": 393,
                "direction": "vertical",
                "labelFontSize": 16.7,
                "labelColor": "#000000",
                "labelLimit": 600,
                "symbolSize": 324,
                "symbolStrokeWidth": 2.5,
                "symbolFillColor": "transparent",
                "padding": 5,
                "rowPadding": 7,
                "symbolOffset": 8.3,
                "labelOffset": 23.7,
                "fillColor": "rgba(255,255,255,0.8)",
                "strokeColor": "#cccccc",
                "cornerRadius": 4,
                "encode": {
                  "symbols": {
                    "update": {
                      "shape": {"signal": "datum.value == '2 m diagnostic spread (min–max, ±12 m)' ? 'M0,-0.95L0,0.95M-0.42,-0.95L0.42,-0.95M-0.42,0.95L0.42,0.95' : 'M-1.944,0L1.944,0'"},
                      "strokeWidth": {"signal": "datum.value == '2 m diagnostic spread (min–max, ±12 m)' ? 1.6 : 2.5"},
                      "fill": {"value": "transparent"}
                    }
                  }
                }
              }
            }
          }
        },
        {
          "data": {"name": "spread"},
          "mark": {"type": "point", "shape": "stroke", "size": 49, "filled": false, "strokeWidth": 1.6, "color": "#a99cc6", "opacity": 1},
          "encoding": {
            "x": {"field": "distance", "type": "quantitative"},
            "y": {"field": "lo", "type": "quantitative"}
          }
        },
        {
          "data": {"name": "spread"},
          "mark": {"type": "point", "shape": "stroke", "size": 49, "filled": false, "strokeWidth": 1.6, "color": "#a99cc6", "opacity": 1},
          "encoding": {
            "x": {"field": "distance", "type": "quantitative"},
            "y": {"field": "hi", "type": "quantitative"}
          }
        },
        {
          "data": {"name": "profile"},
          "mark": {"type": "line", "strokeWidth": 2.5},
          "encoding": {
            "x": {"field": "distance", "type": "quantitative"},
            "y": {"field": "gradient", "type": "quantitative"},
            "color": {"field": "window", "type": "nominal", "title": null},
            "order": {"field": "distance", "type": "quantitative"}
          }
        }
      ]
    },
    {
      "data": {"name": "peak"},
      "mark": {"type": "point", "shape": "triangle-down", "filled": true, "size": 160, "color": "#8878a9", "opacity": 1},
      "encoding": {
        "x": {"field": "distance", "type": "quantitative"},
        "y": {
          "field": "gradient",
          "type": "quantitative",
          "scale": {"domain": [-39.5, 61.4], "nice": false, "zero": false},
          "axis": {
            "orient": "right",
            "grid": false,
            "labels": false,
            "ticks": false,
            "domain": false,
            "title": "LiDAR-derived road-centreline profile (1 m DTM, bilinear) — not a surveyed asphalt gradient",
            "titleAngle": 0,
            "titleAlign": "right",
            "titleBaseline": "alphabetic",
            "titleX": 8,
            "titleY": 611,
            "titleFontSize": 15.1,
            "titleColor": "#666666"
          }
        }
      }
    }
  ],
  "resolve": {"scale": {"y": "independent"}, "axis": {"y": "independent"}}
}
